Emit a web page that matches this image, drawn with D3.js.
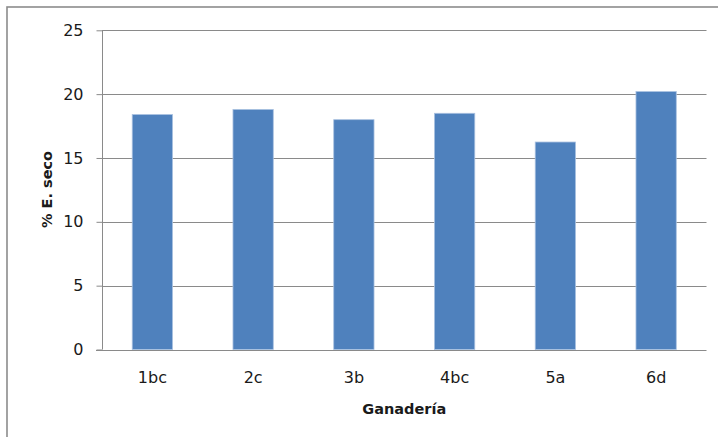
<!DOCTYPE html>
<html>
<head>
<meta charset="utf-8">
<script src="https://cdn.jsdelivr.net/npm/d3@7/dist/d3.min.js"></script>
<style>
  html, body { margin: 0; padding: 0; background: #fff; }
  svg { display: block; }
  text { font-family: "DejaVu Sans", sans-serif; fill: #1a1a1a; }
</style>
</head>
<body>
<svg id="chart" width="718" height="437"></svg>
<script>
// Dry extract percentage per farm (ganadería)
const categories = ["1bc", "2c", "3b", "4bc", "5a", "6d"];
const values = [18.4, 18.8, 18.0, 18.5, 16.25, 20.2];
const yTicks = [0, 5, 10, 15, 20, 25];
const yTitle = "% E. seco";
const xTitle = "Ganadería";

const svg = d3.select("#chart");
const W = 718, H = 437;

svg.append("rect").attr("width", W).attr("height", H).attr("fill", "#fff");

// Outer chart frame (continues past the right and bottom edges)
svg.append("rect")
  .attr("x", 7).attr("y", 7)
  .attr("width", W + 20).attr("height", H + 20)
  .attr("fill", "none")
  .attr("stroke", "#8c8c8c")
  .attr("stroke-width", 1.6);

const plot = { left: 102, right: 706.5, top: 30.3, bottom: 349.5 };

const x = d3.scaleBand()
  .domain(categories)
  .range([plot.left, plot.right])
  .paddingInner(0.6)
  .paddingOuter(0.3);

const y = d3.scaleLinear()
  .domain([0, 25])
  .range([plot.bottom, plot.top]);

// Horizontal gridlines
svg.append("g")
  .selectAll("line")
  .data(yTicks.filter(d => d > 0))
  .join("line")
  .attr("x1", plot.left).attr("x2", plot.right)
  .attr("y1", d => Math.round(y(d)) + 0.5)
  .attr("y2", d => Math.round(y(d)) + 0.5)
  .attr("stroke", "#8a8a8a")
  .attr("stroke-width", 1);

// Bars
svg.append("g")
  .selectAll("rect")
  .data(values)
  .join("rect")
  .attr("x", (d, i) => x(categories[i]))
  .attr("y", d => y(d))
  .attr("width", x.bandwidth())
  .attr("height", d => y(0) - y(d))
  .attr("fill", "#4f81bd")
  .attr("stroke", "#a9c1e0")
  .attr("stroke-width", 0.8);

// Y axis
const yAxis = d3.axisLeft(y)
  .tickValues(yTicks)
  .tickSize(6)
  .tickPadding(13)
  .tickFormat(d3.format("d"));

const gy = svg.append("g")
  .attr("transform", `translate(${plot.left + 0.5},0)`)
  .call(yAxis);
gy.select(".domain").attr("stroke", "#8a8a8a").attr("d", `M0,${plot.top}V${plot.bottom}`);
gy.selectAll(".tick line").attr("stroke", "#8a8a8a");
gy.selectAll(".tick text")
  .style("font-family", "DejaVu Sans, sans-serif")
  .style("font-size", "16px")
  .attr("fill", "#222");

// X axis (baseline, category labels)
const xAxis = d3.axisBottom(x).tickSize(0).tickPadding(21);
const gx = svg.append("g")
  .attr("transform", `translate(0,${Math.round(y(0)) + 0.5})`)
  .call(xAxis);
gx.select(".domain").attr("stroke", "#8a8a8a").attr("d", `M${plot.left - 6},0H${plot.right}`);
gx.selectAll(".tick text")
  .style("font-family", "DejaVu Sans, sans-serif")
  .style("font-size", "16px")
  .attr("fill", "#222");

// Axis titles
svg.append("text")
  .attr("x", (plot.left + plot.right) / 2)
  .attr("y", 414)
  .attr("text-anchor", "middle")
  .style("font-size", "14.5px")
  .style("font-weight", "bold")
  .text(xTitle);

svg.append("text")
  .attr("transform", `translate(51.5,${189.5}) rotate(-90)`)
  .attr("text-anchor", "middle")
  .style("font-size", "14.5px")
  .style("font-weight", "bold")
  .text(yTitle);
</script>
</body>
</html>
